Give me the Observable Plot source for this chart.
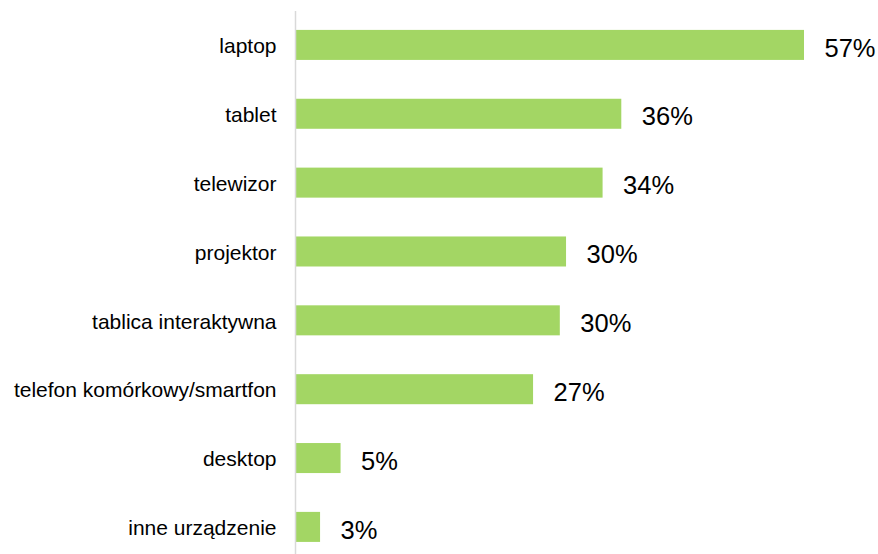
<!DOCTYPE html>
<html>
<head>
<meta charset="utf-8">
<script src="https://cdn.jsdelivr.net/npm/d3@7"></script>
<script src="https://cdn.jsdelivr.net/npm/@observablehq/plot@0.6"></script>
<style>
  html, body { margin: 0; padding: 0; background: #fff; }
  #chart svg { display: block; }
</style>
</head>
<body>
<div id="chart"></div>
<script>
const categories = ["laptop", "tablet", "telewizor", "projektor", "tablica interaktywna", "telefon komórkowy/smartfon", "desktop", "inne urządzenie"];
const values = [57, 36.5, 34.4, 30.3, 29.6, 26.6, 5.0, 2.7];
const labels = ["57%", "36%", "34%", "30%", "30%", "27%", "5%", "3%"];

const data = categories.map((c, i) => ({category: c, value: values[i], label: labels[i]}));

const chart = Plot.plot({
  width: 878,
  height: 554,
  marginLeft: 296,
  marginRight: 74,
  marginTop: 11,
  marginBottom: 0,
  style: {fontFamily: "'Liberation Sans', Arial, sans-serif", color: "#000", background: "#fff"},
  x: {domain: [0, 57], axis: null},
  y: {domain: categories, paddingInner: 0.564, paddingOuter: 0.225, align: 0.61, round: false, label: null},
  marks: [
    Plot.barX(data, {x: "value", y: "category", fill: "#a3d664"}),
    Plot.ruleX([0], {stroke: "#d9d9d9", strokeWidth: 1.5, dx: -1}),
    Plot.text(data, {x: "value", y: "category", text: "label", textAnchor: "start", dx: 20, dy: 3, fontSize: 25.5, fill: "#000"}),
    Plot.axisY({tickSize: 0, tickPadding: 20, fontSize: 21, label: null, dy: 1})
  ]
});
document.getElementById("chart").appendChild(chart);
</script>
</body>
</html>
